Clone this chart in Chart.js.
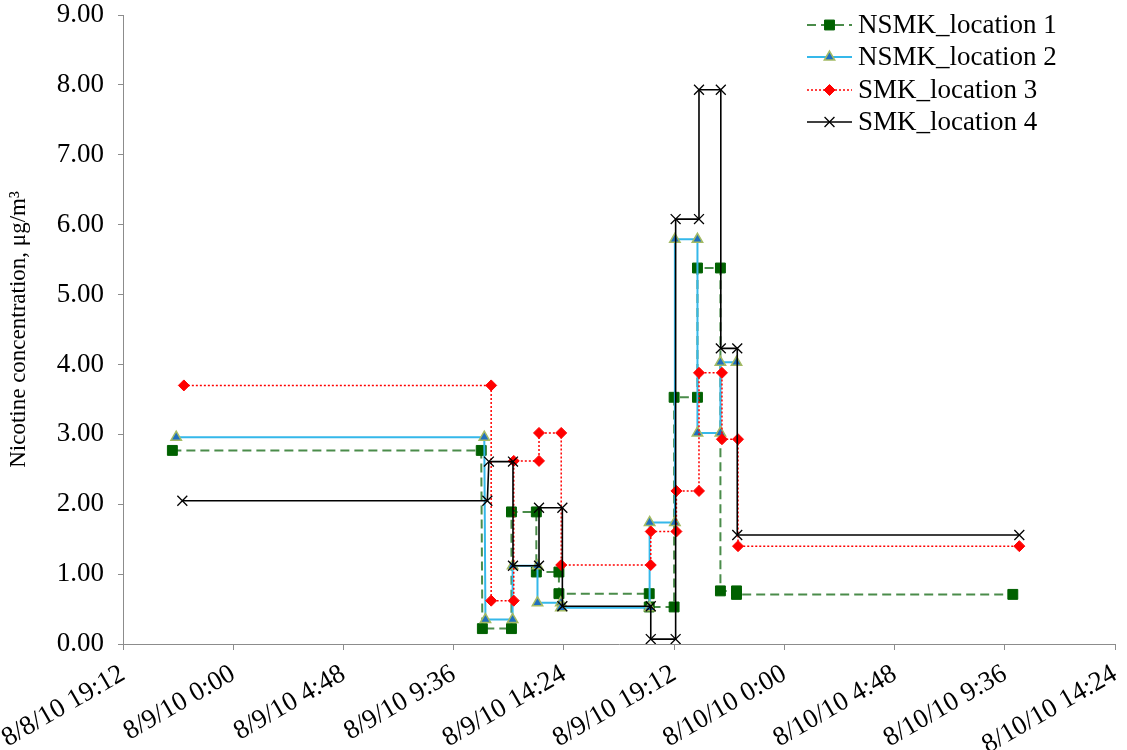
<!DOCTYPE html>
<html>
<head>
<meta charset="utf-8">
<script src="https://cdn.jsdelivr.net/npm/chart.js@4.4.0/dist/chart.umd.min.js"></script>
<style>
  html, body { margin: 0; padding: 0; background: #fff; }
</style>
</head>
<body>
<canvas id="myChart" width="1127" height="750"></canvas>
<script>
// sampling periods: start, end and concentration (ug/m3)
let loc1Start = ["8/8/10 21:21", "8/9/10 10:51", "8/9/10 12:07", "8/9/10 13:12", "8/9/10 14:11", "8/9/10 18:07", "8/9/10 19:12", "8/9/10 20:13", "8/9/10 21:13", "8/9/10 21:55"];
let loc1End = ["8/9/10 10:48", "8/9/10 12:07", "8/9/10 13:12", "8/9/10 14:11", "8/9/10 18:07", "8/9/10 19:12", "8/9/10 20:13", "8/9/10 21:13", "8/9/10 21:55", "8/10/10 9:57"];
let loc1Values = [2.77, 0.22, 1.89, 1.03, 0.72, 0.53, 3.53, 5.38, 0.76, 0.71];

let loc2Start = ["8/8/10 21:31", "8/9/10 10:59", "8/9/10 12:10", "8/9/10 13:15", "8/9/10 14:16", "8/9/10 18:08", "8/9/10 19:14", "8/9/10 20:13", "8/9/10 21:13"];
let loc2End = ["8/9/10 10:56", "8/9/10 12:10", "8/9/10 13:15", "8/9/10 14:16", "8/9/10 18:08", "8/9/10 19:14", "8/9/10 20:13", "8/9/10 21:13", "8/9/10 21:55"];
let loc2Values = [2.96, 0.35, 1.12, 0.59, 0.52, 1.74, 5.79, 3.02, 4.03];

let loc3Start = ["8/8/10 21:51", "8/9/10 11:14", "8/9/10 12:13", "8/9/10 13:19", "8/9/10 14:17", "8/9/10 18:11", "8/9/10 19:18", "8/9/10 20:17", "8/9/10 21:17", "8/9/10 21:59"];
let loc3End = ["8/9/10 11:14", "8/9/10 12:13", "8/9/10 13:19", "8/9/10 14:17", "8/9/10 18:11", "8/9/10 19:18", "8/9/10 20:17", "8/9/10 21:17", "8/9/10 21:59", "8/10/10 10:14"];
let loc3Values = [3.70, 0.62, 2.62, 3.02, 1.13, 1.61, 2.19, 3.88, 2.93, 1.40];

let loc4Start = ["8/8/10 21:47", "8/9/10 11:08", "8/9/10 12:11", "8/9/10 13:19", "8/9/10 14:20", "8/9/10 18:11", "8/9/10 19:16", "8/9/10 20:17", "8/9/10 21:14", "8/9/10 21:57"];
let loc4End = ["8/9/10 11:04", "8/9/10 12:11", "8/9/10 13:19", "8/9/10 14:20", "8/9/10 18:11", "8/9/10 19:16", "8/9/10 20:17", "8/9/10 21:14", "8/9/10 21:57", "8/10/10 10:14"];
let loc4Values = [2.05, 2.61, 1.12, 1.95, 0.54, 0.07, 6.08, 7.93, 4.23, 1.56];

let seriesNames = ["NSMK_location 1", "NSMK_location 2", "SMK_location 3", "SMK_location 4"];

let xTickLabels = ["8/8/10 19:12", "8/9/10 0:00", "8/9/10 4:48", "8/9/10 9:36", "8/9/10 14:24",
    "8/9/10 19:12", "8/10/10 0:00", "8/10/10 4:48", "8/10/10 9:36", "8/10/10 14:24"];

function toMs(s) {
    let m = s.match(/(\d+)\/(\d+)\/(\d+) (\d+):(\d+)/);
    return Date.UTC(2000 + +m[3], +m[1] - 1, +m[2], +m[4], +m[5]);
}

// each period becomes two points so the line steps like the original
function steps(starts, ends, values) {
    let pts = [];
    for (let i = 0; i < values.length; i++) {
        pts.push({ x: toMs(starts[i]), y: values[i] });
        pts.push({ x: toMs(ends[i]), y: values[i] });
    }
    return pts;
}

let serif = "'Liberation Serif', 'Times New Roman', serif";

let legendBox = {
    id: "legendBox",
    afterDraw(chart) {
        let ctx = chart.ctx;
        let rows = [25, 57, 90, 122];
        chart.data.datasets.forEach((ds, i) => {
            let y = rows[i];
            ctx.save();
            ctx.strokeStyle = ds.borderColor;
            ctx.lineWidth = ds.borderWidth;
            ctx.setLineDash(ds.borderDash || []);
            ctx.beginPath();
            ctx.moveTo(807, y);
            ctx.lineTo(852, y);
            ctx.stroke();
            ctx.setLineDash([]);
            ctx.fillStyle = ds.pointBackgroundColor;
            ctx.strokeStyle = ds.pointBorderColor;
            ctx.lineWidth = ds.pointBorderWidth;
            Chart.helpers.drawPoint(ctx, {
                pointStyle: ds.pointStyle,
                radius: ds.pointRadius,
                rotation: 0,
                borderWidth: ds.pointBorderWidth,
            }, 829.5, y);
            ctx.fillStyle = "#000";
            ctx.font = "27px " + serif;
            ctx.textBaseline = "middle";
            ctx.textAlign = "left";
            ctx.fillText(ds.label, 858, y + 1);
            ctx.restore();
        });
    },
};

let myChart = document.getElementById("myChart").getContext("2d");

let nicotineChart = new Chart(myChart, {
    type: "scatter",
    data: {
        datasets: [
            {
                label: seriesNames[0],
                data: steps(loc1Start, loc1End, loc1Values),
                showLine: true,
                borderColor: "#4a8c4a",
                borderWidth: 2,
                borderDash: [9, 5],
                pointStyle: "rect",
                pointRadius: 7,
                pointBackgroundColor: "#006100",
                pointBorderColor: "#006100",
                pointBorderWidth: 1,
                order: 3,
            },
            {
                label: seriesNames[1],
                data: steps(loc2Start, loc2End, loc2Values),
                showLine: true,
                borderColor: "#35b8ea",
                borderWidth: 2,
                pointStyle: "triangle",
                pointRadius: 6,
                pointBackgroundColor: "#1f6fbf",
                pointBorderColor: "#a4bb64",
                pointBorderWidth: 1.5,
                order: 2,
            },
            {
                label: seriesNames[2],
                data: steps(loc3Start, loc3End, loc3Values),
                showLine: true,
                borderColor: "#ff0000",
                borderWidth: 1.5,
                borderDash: [2, 2],
                pointStyle: "rectRot",
                pointRadius: 5.5,
                pointBackgroundColor: "#ff0000",
                pointBorderColor: "#ff0000",
                pointBorderWidth: 1,
                order: 1,
            },
            {
                label: seriesNames[3],
                data: steps(loc4Start, loc4End, loc4Values),
                showLine: true,
                borderColor: "#000000",
                borderWidth: 1.6,
                pointStyle: "crossRot",
                pointRadius: 7,
                pointBackgroundColor: "#000000",
                pointBorderColor: "#000000",
                pointBorderWidth: 1.3,
                order: 0,
            },
        ],
    },
    options: {
        responsive: false,
        animation: false,
        devicePixelRatio: 1,
        layout: { padding: { top: 15, right: 12, bottom: 0, left: 0 } },
        plugins: {
            legend: { display: false },
            tooltip: { enabled: false },
        },
        scales: {
            x: {
                type: "linear",
                min: toMs(xTickLabels[0]),
                max: toMs(xTickLabels[xTickLabels.length - 1]),
                afterFit(scale) {
                    scale.height = 106;
                    scale.paddingLeft = 0;
                    scale.paddingRight = 0;
                },
                ticks: {
                    stepSize: 4.8 * 3600 * 1000,
                    autoSkip: false,
                    minRotation: 30,
                    maxRotation: 30,
                    padding: 8,
                    color: "#000",
                    font: { family: serif, size: 27 },
                    callback: (value, index) => xTickLabels[index],
                },
                grid: { drawOnChartArea: false, tickLength: 6, color: "#8c8c8c" },
                border: { color: "#8c8c8c", width: 1 },
            },
            y: {
                min: 0,
                max: 9,
                afterFit(scale) {
                    scale.width = 123;
                    scale.paddingTop = 0;
                    scale.paddingBottom = 0;
                },
                ticks: {
                    stepSize: 1,
                    padding: 14,
                    color: "#000",
                    font: { family: serif, size: 27 },
                    callback: (value) => value.toFixed(2),
                },
                grid: { drawOnChartArea: false, tickLength: 5, color: "#8c8c8c" },
                border: { color: "#8c8c8c", width: 1 },
                title: {
                    display: true,
                    text: "Nicotine concentration, μg/m³",
                    color: "#000",
                    font: { family: serif, size: 23 },
                    padding: { top: 5, bottom: 0 },
                },
            },
        },
    },
    plugins: [legendBox],
});
</script>
</body>
</html>
